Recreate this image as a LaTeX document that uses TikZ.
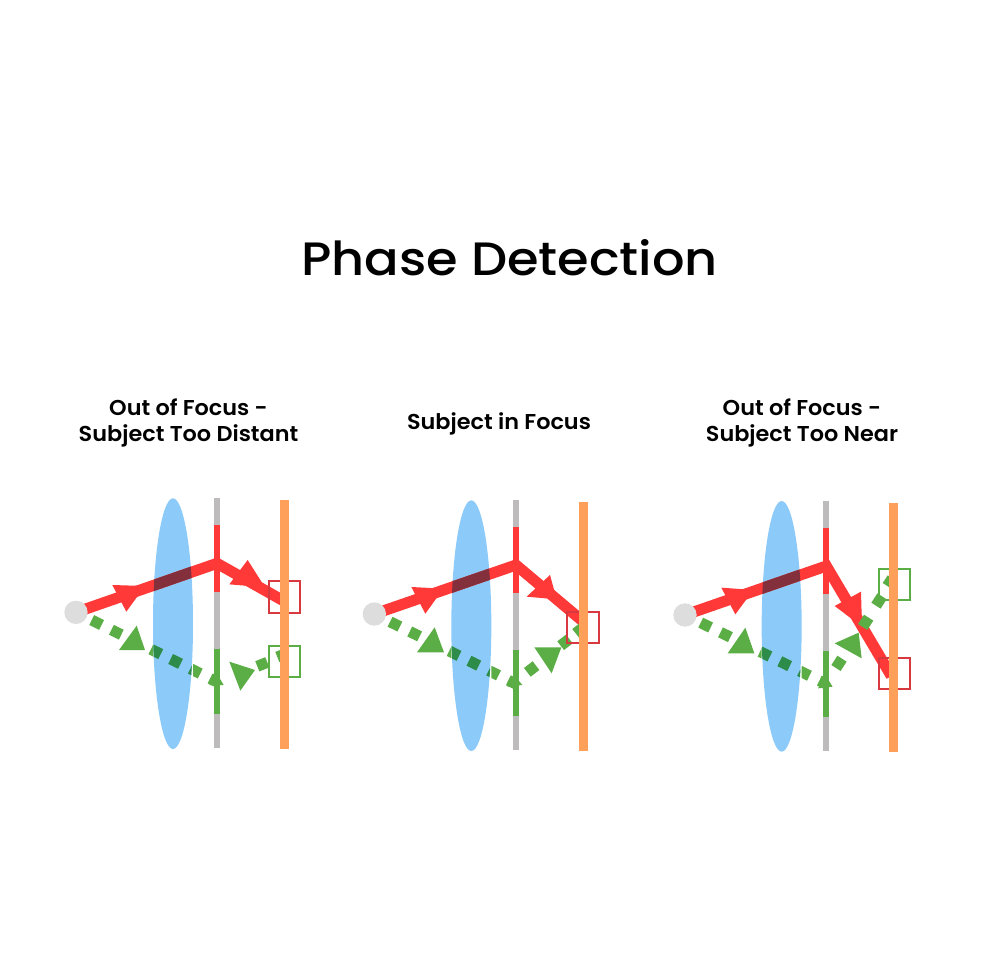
\documentclass[tikz,border=0pt]{standalone}
\usepackage{fontspec}
\newfontfamily\titlefont[FakeStretch=1.09]{Poppins Medium}
\newfontfamily\labelfont[FakeStretch=1.04]{Poppins SemiBold}
\definecolor{rayred}{HTML}{FF3838}
\definecolor{raydark}{HTML}{842F3C}
\definecolor{raygreen}{HTML}{5BAE45}
\definecolor{greendark}{HTML}{2E8C4B}
\definecolor{lensblue}{HTML}{8CCBF9}
\definecolor{sensor}{HTML}{FFA05A}
\definecolor{barGray}{HTML}{BDBBBB}
\definecolor{dotGray}{HTML}{DDDDDD}
\definecolor{boxred}{HTML}{D8393F}
\tikzset{
  redray/.style={draw=#1,line width=11pt,miter limit=10},
  greenray/.style={draw=#1,line width=11pt,dash pattern=on 11pt off 11pt on 11pt off 11pt on 11pt off 33pt on 11pt off 11pt on 11pt off 11pt on 11pt off 11pt on 11pt off 200pt,dash phase=4.5pt},
  greenbit/.style={draw=raygreen,line width=11pt},
  bar/.style={line width=6pt},
  sensorbar/.style={draw=sensor,line width=9pt},
  frame/.style={line width=2.2pt,fill=none},
  titletext/.style={font=\titlefont\fontsize{46.8}{56}\selectfont,text=black,inner sep=0pt,anchor=base},
  labeltext/.style={font=\labelfont\fontsize{21.5}{26}\selectfont,text=black,inner sep=0pt,align=center}
}
% #1 origin; #2 lens x; #3 lens centre y; #4 bar x; #5 bar top; #6 sensor x; #7 sensor top
\newcommand{\drawpanel}[7]{%
\begin{scope}[shift={#1},x=0.33333pt,y=-0.33333pt]
  \draw[bar,barGray] (#4,#5) -- (#4,#5+749);
  \draw[bar,rayred] (#4,#5+81) -- (#4,#5+280);
  \draw[bar,raygreen] (#4,#5+451) -- (#4,#5+648);
  \fill[lensblue] (#2,#3) ellipse [x radius=60,y radius=376];
  \draw[redray=rayred] (dot) -- (rv) -- (re);
  \fill[rayred] \redtriA -- cycle;
  \fill[rayred] \redtriB -- cycle;
  \begin{scope}
    \clip (#2,#3) ellipse [x radius=60,y radius=376];
    \draw[redray=raydark] (dot) -- (rv);
    \draw[greenray=greendark] (dot) -- (gv);
  \end{scope}
  \begin{scope}
    \clip (0,0) rectangle (#2-60,800) (#2+60,0) rectangle (810,800);
    \draw[greenray=raygreen] (dot) -- (gv);
  \end{scope}
  \draw[greenbit] \greenleg;
  \fill[raygreen] \greentriA -- cycle;
  \fill[raygreen] \greentriV -- cycle;
  \fill[raygreen] \greentriB -- cycle;
  \draw[frame,\boxAcolor] \boxA;
  \draw[frame,\boxBcolor] \boxB;
  \draw[sensorbar] (#6,#7) -- (#6,#7+747);
  \fill[dotGray] (dot) circle [radius=35];
\end{scope}}
\begin{document}
\begin{tikzpicture}[x=1pt,y=-1pt]
\useasboundingbox (0,0) rectangle (980,980);
\fill[white] (0,0) rectangle (980,980);
\node[titletext] (title) at (509.5,275) {Phase Detection};
\node[labeltext] (lab1) at (188.5,423) {Out of Focus -\\Subject Too Distant};
\node[labeltext] (lab2) at (499,424) {Subject in Focus};
\node[labeltext] (lab3) at (802,423) {Out of Focus -\\Subject Too Near};

% panel 1
\begin{scope}[shift={(50,480)},x=0.33333pt,y=-0.33333pt]
  \coordinate (dot) at (78,397); \coordinate (rv) at (501,250); \coordinate (re) at (705,365);
  \coordinate (gv) at (500,605);
\end{scope}
\def\greenleg{(622,559) -- (652,547) (682,531) -- (705,522)}
\def\redtriA{(187,315) -- (229,395) -- (285,318)}
\def\redtriB{(593,240) -- (538,313) -- (645,322)}
\def\greentriA{(260,437) -- (207,510) -- (285,510)}
\def\greentriV{(500,580) -- (478,615) -- (521,615)}
\def\greentriB{(538,545) -- (615,570) -- (571,632)}
\def\boxA{(656,304) rectangle (749,398)}\def\boxAcolor{boxred}
\def\boxB{(656,497) rectangle (749,591)}\def\boxBcolor{raygreen}
\drawpanel{(50,480)}{369}{431}{501}{55}{704}{60}

% panel 2
\begin{scope}[shift={(350,490)},x=0.33333pt,y=-0.33333pt]
  \coordinate (dot) at (73,372); \coordinate (rv) at (498,225); \coordinate (re) at (700,395);
  \coordinate (gv) at (498,582);
\end{scope}
\def\greenleg{(532,547) -- (558,527) (632,467) -- (658,447) (677,430) -- (700,412)}
\def\redtriA{(184,291) -- (226,371) -- (280,296)}
\def\redtriB{(600,255) -- (530,320) -- (620,328)}
\def\greentriA{(254,412) -- (201,487) -- (282,487)}
\def\greentriV{(493,556) -- (472,590) -- (517,585)}
\def\greentriB{(553,472) -- (634,472) -- (605,550)}
\def\boxA{(650,367) rectangle (746,460)}\def\boxAcolor{boxred}
\def\boxB{(650,367) rectangle (746,460)}\def\boxBcolor{boxred}
\drawpanel{(350,490)}{364}{407}{498}{30}{699}{36}

% panel 3
\begin{scope}[shift={(660,490)},x=0.33333pt,y=-0.33333pt]
  \coordinate (dot) at (75,375); \coordinate (rv) at (499,228); \coordinate (re) at (694,558);
  \coordinate (gv) at (499,582);
\end{scope}
\def\greenleg{(528,534) -- (546,506) (608,411) -- (626,383) (648,347) -- (666,319) (682,288) -- (697,265)}
\def\redtriA{(184,293) -- (226,373) -- (280,300)}
\def\redtriB{(603,305) -- (524,348) -- (606,410)}
\def\greentriA{(256,413) -- (203,490) -- (283,490)}
\def\greentriV{(497,558) -- (474,595) -- (518,590)}
\def\greentriB{(596,428) -- (524,460) -- (605,505)}
\def\boxA{(657,503) rectangle (751,597)}\def\boxAcolor{boxred}
\def\boxB{(657,236) rectangle (751,329)}\def\boxBcolor{raygreen}
\drawpanel{(660,490)}{365}{409}{499}{33}{700}{39}
\end{tikzpicture}
\end{document}
